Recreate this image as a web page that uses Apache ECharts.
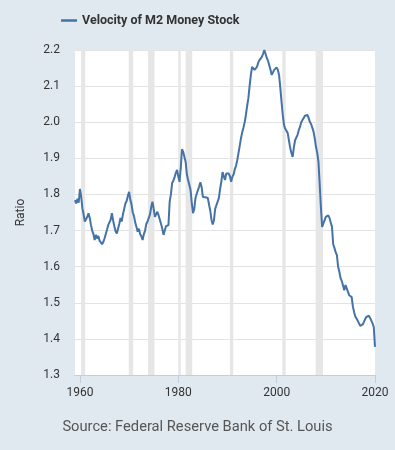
<!DOCTYPE html>
<html><head><meta charset="utf-8">
<script src="https://cdn.jsdelivr.net/npm/echarts@6/dist/echarts.min.js"></script>
<style>html,body{margin:0;padding:0;background:#e1e9f0}#c{width:395px;height:450px}</style>
</head><body><div id="c"></div>
<script>
const seriesName = "Velocity of M2 Money Stock";
const startYear = 1959;
// quarterly values, 1959Q1 .. 2020Q1
const velocity = [
1.784,1.775,1.788,1.777,
1.815,1.795,1.762,1.745,
1.725,1.728,1.738,1.748,
1.735,1.715,1.700,1.690,
1.674,1.688,1.678,1.685,
1.672,1.676,1.662,1.668,
1.678,1.690,1.702,1.715,
1.718,1.730,1.748,1.728,
1.712,1.698,1.692,1.705,
1.718,1.735,1.725,1.745,
1.760,1.775,1.782,1.796,
1.807,1.785,1.772,1.750,
1.740,1.722,1.710,1.697,
1.705,1.690,1.684,1.674,
1.690,1.700,1.718,1.725,
1.730,1.745,1.765,1.780,
1.760,1.738,1.745,1.752,
1.742,1.730,1.718,1.705,
1.688,1.700,1.712,1.713,
1.715,1.780,1.800,1.832,
1.838,1.848,1.860,1.868,
1.850,1.835,1.872,1.925,
1.918,1.922,1.890,1.855,
1.840,1.835,1.812,1.775,
1.748,1.760,1.790,1.802,
1.812,1.822,1.834,1.820,
1.793,1.795,1.792,1.790,
1.790,1.788,1.755,1.730,
1.717,1.728,1.760,1.770,
1.768,1.790,1.815,1.835,
1.862,1.850,1.840,1.858,
1.855,1.858,1.850,1.835,
1.849,1.855,1.870,1.880,
1.895,1.915,1.935,1.956,
1.972,1.985,2.000,2.020,
2.045,2.066,2.100,2.130,
2.153,2.150,2.145,2.148,
2.153,2.165,2.172,2.175,
2.181,2.190,2.200,2.195,
2.178,2.170,2.158,2.145,
2.131,2.135,2.145,2.140,
2.152,2.145,2.130,2.095,
2.056,2.020,1.992,1.982,
1.978,1.970,1.950,1.929,
1.915,1.904,1.930,1.950,
1.945,1.965,1.978,1.987,
2.000,2.006,2.012,2.018,
2.023,2.020,2.012,2.001,
1.995,1.985,1.974,1.955,
1.932,1.915,1.891,1.830,
1.765,1.710,1.720,1.729,
1.738,1.743,1.742,1.735,
1.722,1.711,1.662,1.652,
1.640,1.632,1.600,1.586,
1.568,1.560,1.555,1.535,
1.549,1.540,1.535,1.521,
1.518,1.516,1.490,1.474,
1.462,1.457,1.450,1.443,
1.436,1.433,1.440,1.447,
1.455,1.461,1.464,1.464,
1.458,1.453,1.443,1.433,
1.378
];
// recessions as [start, end] in decimal years
const recessions = [
[1960.25,1961.08],[1969.92,1970.83],[1973.83,1975.17],[1980.0,1980.5],
[1981.5,1982.83],[1990.5,1991.17],[2001.17,2001.83],[2007.92,2009.42]
];
const xTicks = [1960,1980,2000,2020];
const yMin = 1.3, yMax = 2.2, yStep = 0.1;

const data = velocity.map((v,i)=>[startYear + i/4, v]);
const chart = echarts.init(document.getElementById('c'));
chart.setOption({
  backgroundColor:'#e1e9f0',
  animation:false,
  textStyle:{fontFamily:'Roboto'},
  title:{text:'Source: Federal Reserve Bank of St. Louis',left:'center',top:415,
    textStyle:{fontSize:14.7,fontWeight:'normal',color:'#555',fontFamily:'Roboto'}},
  legend:{left:56,top:9,icon:'rect',itemWidth:16,itemHeight:2.5,
    textStyle:{fontSize:12.5,fontWeight:'bold',color:'#333',fontFamily:'Roboto'},
    data:[seriesName]},
  grid:{left:75,right:20,top:50,bottom:75,show:true,backgroundColor:'#fff',borderWidth:0},
  xAxis:{type:'value',min:startYear,max:startYear+(velocity.length-1)/4,
    splitLine:{show:false},
    axisLine:{show:true,lineStyle:{color:'#c0cee0'}},
    axisTick:{show:true,customValues:xTicks,length:8,lineStyle:{color:'#c0cee0'}},
    axisLabel:{customValues:xTicks,color:'#333',fontSize:12,margin:12,formatter:v=>String(v)}},
  yAxis:{type:'value',min:yMin,max:yMax,interval:yStep,
    name:'Ratio',nameLocation:'middle',nameGap:48,nameRotate:90,
    nameTextStyle:{color:'#333',fontSize:12},
    axisLine:{show:false},axisTick:{show:false},
    axisLabel:{color:'#333',fontSize:12,margin:15,formatter:v=>v.toFixed(1)},
    splitLine:{lineStyle:{color:'#e3e3e3',width:1}}},
  series:[{name:seriesName,type:'line',data:data,showSymbol:false,symbol:'none',
    lineStyle:{color:'#4572a7',width:2},itemStyle:{color:'#4572a7'},
    markArea:{silent:true,itemStyle:{color:'#e6e6e6'},
      data:recessions.map(r=>[{xAxis:r[0]},{xAxis:r[1]}])},
    z:3}]
});
</script></body></html>
